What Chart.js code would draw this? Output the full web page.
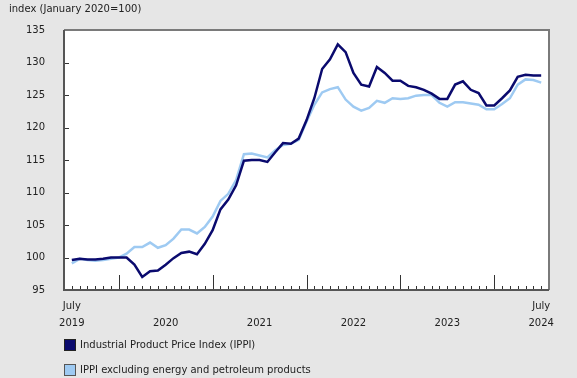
<!DOCTYPE html>
<html>
<head>
<meta charset="utf-8">
<script src="https://cdn.jsdelivr.net/npm/chart.js@4/dist/chart.umd.min.js"></script>
<style>
  html, body { margin: 0; padding: 0; background: #e6e6e6; }
  #wrap { position: relative; width: 577px; height: 378px; overflow: hidden; background: #e6e6e6;
          font-family: "DejaVu Sans", Verdana, sans-serif; font-size: 10px; color: #222; }
  #c { position: absolute; left: 0; top: 0; }
  #title { position: absolute; left: 9px; top: 3px; white-space: nowrap; }
  .leg { position: absolute; left: 64px; white-space: nowrap; height: 12px; line-height: 12px; }
  .leg span.box { display: inline-block; width: 10px; height: 10px; border: 1px solid #333; vertical-align: top; margin-right: 4px; }
</style>
</head>
<body>
<div id="wrap">
  <canvas id="c" width="577" height="378"></canvas>
  <div id="title">index (January 2020=100)</div>
  <div id="legend"></div>
</div>
<script>
// ---- data ----
const months = [
  "2019-07","2019-08","2019-09","2019-10","2019-11","2019-12",
  "2020-01","2020-02","2020-03","2020-04","2020-05","2020-06",
  "2020-07","2020-08","2020-09","2020-10","2020-11","2020-12",
  "2021-01","2021-02","2021-03","2021-04","2021-05","2021-06",
  "2021-07","2021-08","2021-09","2021-10","2021-11","2021-12",
  "2022-01","2022-02","2022-03","2022-04","2022-05","2022-06",
  "2022-07","2022-08","2022-09","2022-10","2022-11","2022-12",
  "2023-01","2023-02","2023-03","2023-04","2023-05","2023-06",
  "2023-07","2023-08","2023-09","2023-10","2023-11","2023-12",
  "2024-01","2024-02","2024-03","2024-04","2024-05","2024-06",
  "2024-07"
];
const ippi = [
  99.6, 99.8, 99.7, 99.7, 99.8, 100.0,
  100.0, 100.0, 98.9, 97.0, 97.9, 98.0,
  98.9, 99.9, 100.7, 100.9, 100.5, 102.1,
  104.2, 107.4, 108.9, 111.1, 114.9, 115.0,
  115.0, 114.7, 116.2, 117.6, 117.5, 118.3,
  121.1, 124.5, 129.0, 130.5, 132.8, 131.6,
  128.4, 126.6, 126.3, 129.3, 128.4, 127.2,
  127.2, 126.4, 126.2, 125.8, 125.2, 124.4,
  124.4, 126.6, 127.1, 125.8, 125.3, 123.4,
  123.4, 124.5, 125.7, 127.8, 128.1, 128.0,
  128.0
];
const ippiExEnergy = [
  99.1, 99.8, 99.6, 99.5, 99.6, 99.8,
  100.0, 100.6, 101.6, 101.6, 102.3, 101.5,
  101.9, 102.9, 104.3, 104.3, 103.7, 104.7,
  106.3, 108.7, 109.8, 111.9, 115.9, 116.0,
  115.7, 115.4, 116.5, 117.3, 117.5, 118.1,
  120.9, 123.5, 125.4, 125.9, 126.2, 124.3,
  123.2, 122.6, 123.0, 124.1, 123.8, 124.5,
  124.4, 124.5, 124.9, 125.0, 125.0, 123.8,
  123.2, 123.9, 123.9, 123.7, 123.5, 122.8,
  122.8, 123.6, 124.5, 126.6, 127.4, 127.3,
  126.9
];
const seriesNames = ["Industrial Product Price Index (IPPI)", "IPPI excluding energy and petroleum products"];
const seriesColors = ["#0a0a6e", "#9ecaf2"];
const xTickIndex = [0, 12, 24, 36, 48, 60];
const xTickLabels = [["July","2019"], ["","2020"], ["","2021"], ["","2022"], ["","2023"], ["July","2024"]];
const yTicks = [95, 100, 105, 110, 115, 120, 125, 130, 135];

// ---- chart ----
const toXY = arr => arr.map((v, i) => ({ x: i, y: v }));

const framePlugin = {
  id: 'frame',
  beforeDatasetsDraw(chart) {
    const { ctx, chartArea: a, scales } = chart;
    ctx.save();
    ctx.fillStyle = '#ffffff';
    ctx.fillRect(a.left, a.top, a.right - a.left, a.bottom - a.top);
    ctx.strokeStyle = '#333';
    ctx.lineWidth = 1;
    months.forEach((m, i) => {
      const x = Math.round(scales.x.getPixelForValue(i)) + 0.5;
      const major = m.endsWith('-01');
      ctx.beginPath();
      ctx.moveTo(x, a.bottom);
      ctx.lineTo(x, a.bottom - (major ? 15 : 4));
      ctx.stroke();
    });
    yTicks.forEach(v => {
      const y = Math.round(scales.y.getPixelForValue(v)) + 0.5;
      ctx.beginPath();
      ctx.moveTo(a.left, y);
      ctx.lineTo(a.left + 5, y);
      ctx.stroke();
    });
    ctx.restore();
  },
  afterDatasetsDraw(chart) {
    const { ctx, chartArea: a } = chart;
    ctx.save();
    ctx.lineWidth = 2;
    ctx.strokeStyle = '#7a7a7a';
    ctx.beginPath();
    ctx.moveTo(a.left, a.top); ctx.lineTo(a.right, a.top); ctx.lineTo(a.right, a.bottom);
    ctx.stroke();
    ctx.strokeStyle = '#555';
    ctx.beginPath();
    ctx.moveTo(a.left, a.top); ctx.lineTo(a.left, a.bottom); ctx.lineTo(a.right, a.bottom);
    ctx.stroke();
    ctx.restore();
  }
};

const chart = new Chart(document.getElementById('c'), {
  type: 'line',
  data: {
    datasets: [
      { label: seriesNames[0], data: toXY(ippi), borderColor: seriesColors[0], backgroundColor: seriesColors[0],
        borderWidth: 2.5, pointRadius: 0, tension: 0, fill: false },
      { label: seriesNames[1], data: toXY(ippiExEnergy), borderColor: seriesColors[1], backgroundColor: seriesColors[1],
        borderWidth: 2.5, pointRadius: 0, tension: 0, fill: false }
    ]
  },
  options: {
    responsive: false,
    animation: false,
    devicePixelRatio: 1,
    layout: { padding: { left: 0, right: 28, top: 30, bottom: 0 } },
    plugins: { legend: { display: false }, tooltip: { enabled: false }, title: { display: false } },
    scales: {
      x: {
        type: 'linear', min: -1, max: 61,
        grid: { display: false },
        border: { display: false },
        afterBuildTicks(scale) { scale.ticks = xTickIndex.map(v => ({ value: v })); },
        afterFit(scale) { scale.height = 88; },
        ticks: {
          autoSkip: false, maxRotation: 0, minRotation: 0, padding: 0,
          color: '#222',
          font: { family: '"DejaVu Sans", Verdana, sans-serif', size: 10, lineHeight: 1.7 },
          callback(value) { const k = xTickIndex.indexOf(value); return k >= 0 ? xTickLabels[k] : ''; }
        }
      },
      y: {
        min: 95, max: 135,
        grid: { display: false },
        border: { display: false },
        afterBuildTicks(scale) { scale.ticks = yTicks.map(v => ({ value: v })); },
        afterFit(scale) { scale.width = 64; },
        ticks: {
          padding: 11, color: '#222',
          font: { family: '"DejaVu Sans", Verdana, sans-serif', size: 10 }
        }
      }
    }
  },
  plugins: [framePlugin]
});

// ---- legend (HTML, from datasets) ----
const legend = document.getElementById('legend');
chart.data.datasets.forEach((ds, i) => {
  const d = document.createElement('div');
  d.className = 'leg';
  d.style.top = (339 + i * 25) + 'px';
  const b = document.createElement('span');
  b.className = 'box';
  b.style.background = ds.borderColor;
  b.style.borderColor = i === 0 ? '#222' : '#555';
  d.appendChild(b);
  d.appendChild(document.createTextNode(ds.label));
  legend.appendChild(d);
});
</script>
</body>
</html>
